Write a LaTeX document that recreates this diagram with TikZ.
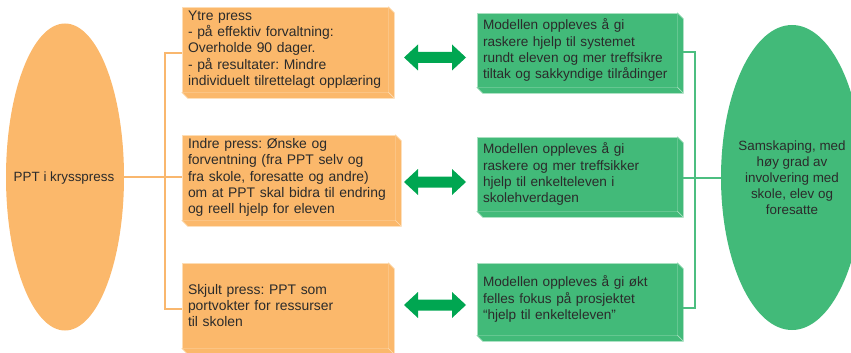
\documentclass[tikz,border=0pt]{standalone}
\usepackage{fontspec}
\setmainfont{Liberation Sans}
\frenchspacing
\usetikzlibrary{shapes.geometric,calc}
\definecolor{ofill}{HTML}{FBB86B}
\definecolor{oedge}{HTML}{FDDDB5}
\definecolor{gfill}{HTML}{42BA79}
\definecolor{gedge}{HTML}{A9E0C0}
\definecolor{garrow}{HTML}{00A651}
\definecolor{txt}{HTML}{2B2B2B}
\definecolor{oline}{HTML}{F9B76E}
\definecolor{gline}{HTML}{4CBE80}
\tikzset{
  boxtxt/.style={text=txt, align=left, inner xsep=6pt, inner ysep=0pt},
  obox/.style={boxtxt, font=\fontsize{13.9}{16.3}\selectfont, fill=ofill, draw=oedge, line width=0.7pt},
  gbox/.style={boxtxt, font=\fontsize{13.6}{16.1}\selectfont, fill=gfill, draw=gedge, line width=0.7pt},
  oconn/.style={draw=oline, line width=1.2pt},
  gconn/.style={draw=gline, line width=1.2pt},
  dblarrow/.style={fill=garrow, draw=none},
}
\newcommand{\extrude}[3]{%
  \fill[#2] (#1.north east) -- ([shift={(6pt,-6pt)}]#1.north east) -- ([shift={(6pt,-6pt)}]#1.south east) -- ([shift={(6pt,-6pt)}]#1.south west) -- (#1.south west) -- (#1.south east) -- cycle;
  \draw[#3, line width=0.7pt] (#1.north east) -- ([shift={(6pt,-6pt)}]#1.north east) -- ([shift={(6pt,-6pt)}]#1.south east) -- ([shift={(6pt,-6pt)}]#1.south west) -- (#1.south west);
  \draw[#3, line width=0.7pt] (#1.south east) -- ([shift={(6pt,-6pt)}]#1.south east);
}
% double arrow centred at named coordinate #1
\newcommand{\dblarr}[1]{%
  \fill[dblarrow] ([shift={(-31pt,0pt)}]#1) -- ([shift={(-17pt,13pt)}]#1) -- ([shift={(-17pt,5.5pt)}]#1) -- ([shift={(17pt,5.5pt)}]#1) -- ([shift={(17pt,13pt)}]#1) -- ([shift={(31pt,0pt)}]#1) -- ([shift={(17pt,-13pt)}]#1) -- ([shift={(17pt,-5.5pt)}]#1) -- ([shift={(-17pt,-5.5pt)}]#1) -- ([shift={(-17pt,-13pt)}]#1) -- cycle;
}
\begin{document}
\begin{tikzpicture}[x=1pt,y=-1pt]
\useasboundingbox (0,0) rectangle (851,353);
% ellipses
\node[ellipse, fill=ofill, minimum width=118pt, minimum height=307pt, inner sep=0pt] (left) at (65,177) {};
\node[font=\fontsize{13.4}{16.3}\selectfont, text=txt] (lefttxt) at (64,178) {PPT i krysspress};
\node[ellipse, fill=gfill, minimum width=142pt, minimum height=305pt, inner sep=0pt] (right) at (792,177.5) {};
\node[align=center, font=\fontsize{13.4}{16.1}\selectfont, text=txt] (righttxt) at (792,178) {Samskaping, med\\høy grad av\\involvering med\\skole, elev og\\foresatte};
% orange boxes
\node[obox, minimum width=206pt, minimum height=85pt, text width=194pt] (o1) at (285,49.5) {Ytre press\\- på effektiv forvaltning:\\Overholde 90 dager.\\- på resultater: Mindre\\individuelt tilrettelagt opplæring};
\extrude{o1}{ofill}{oedge}
\node[obox, minimum width=213pt, minimum height=85pt, text width=201pt] (o2) at (288.5,177.5) {Indre press: Ønske og\\forventning (fra PPT selv og\\fra skole, foresatte og andre)\\om at PPT skal bidra til endring\\og reell hjelp for eleven};
\extrude{o2}{ofill}{oedge}
\node[obox, minimum width=206pt, minimum height=85pt, text width=194pt] (o3) at (285,305.5) {Skjult press: PPT som\\portvokter for ressurser\\til skolen};
\extrude{o3}{ofill}{oedge}
% green boxes
\node[gbox, minimum width=200pt, minimum height=74pt, text width=188pt] (g1) at (577,50) {Modellen oppleves å gi\\raskere hjelp til systemet\\rundt eleven og mer treffsikre\\tiltak og sakkyndige tilrådinger};
\extrude{g1}{gfill}{gedge}
\node[gbox, minimum width=200pt, minimum height=74pt, text width=188pt] (g2) at (577,174) {Modellen oppleves å gi\\raskere og mer treffsikker\\hjelp til enkelteleven i\\skolehverdagen};
\extrude{g2}{gfill}{gedge}
\node[gbox, minimum width=200pt, minimum height=72pt, text width=188pt] (g3) at (577,299) {Modellen oppleves å gi økt\\felles fokus på prosjektet\\“hjelp til enkelteleven”};
\extrude{g3}{gfill}{gedge}
% arrows
\coordinate (a1) at (435,57.5);
\coordinate (a2) at (435,182);
\coordinate (a3) at (435,305);
\dblarr{a1}
\dblarr{a2}
\dblarr{a3}
% orange connectors
\coordinate (ov) at (165,177);
\draw[oconn] (left.east |- ov) -- (o2.west |- ov);
\draw[oconn] (o1.west |- 0,53) -| (ov) |- (o3.west |- 0,309);
% green connectors
\coordinate (gv) at (695,178);
\draw[gconn] ([xshift=6pt]g2.east |- gv) -- (right.west |- gv);
\draw[gconn] ([xshift=6pt]g1.east |- 0,52) -| (gv) |- ([xshift=6pt]g3.east |- 0,308);
\end{tikzpicture}
\end{document}
